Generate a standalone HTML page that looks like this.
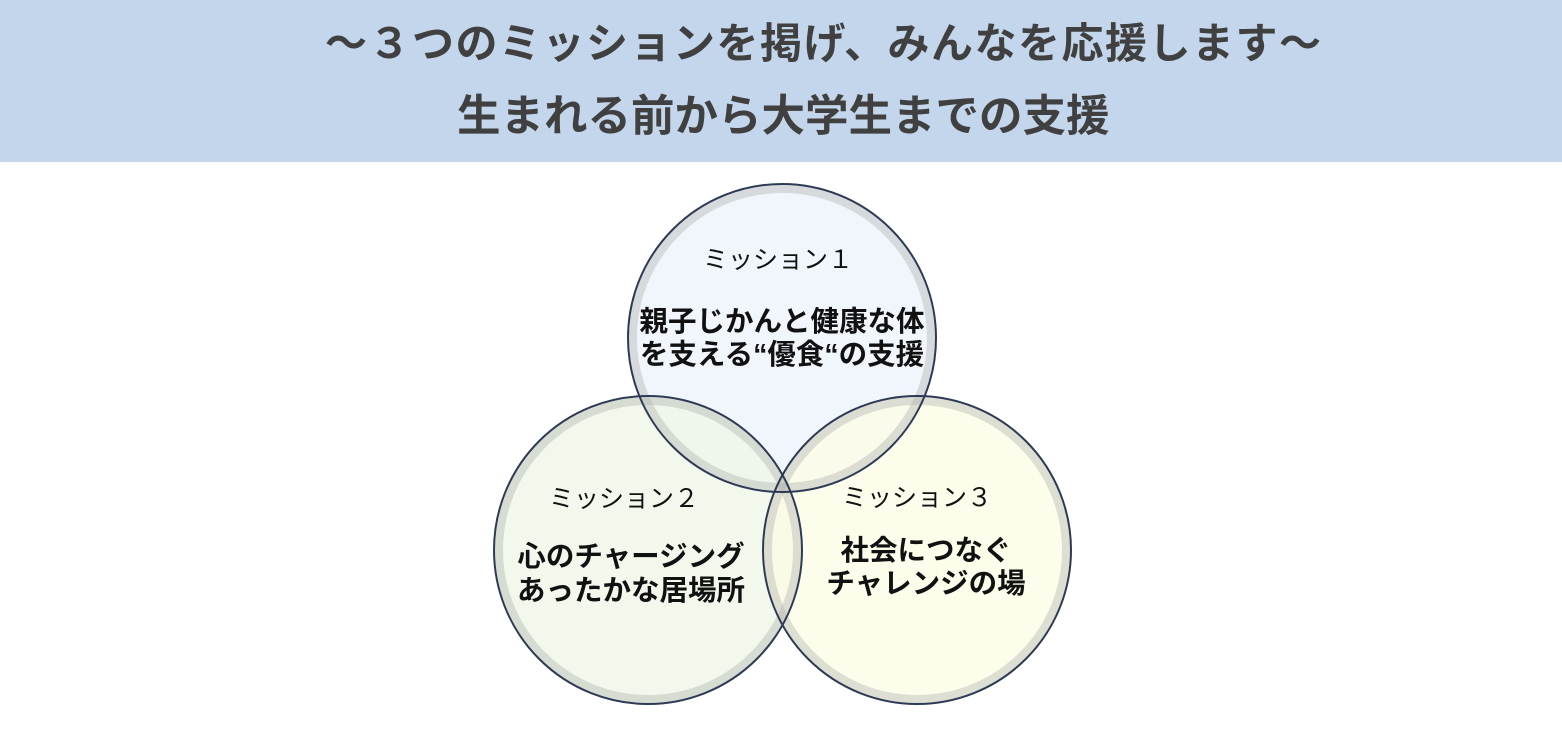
<!DOCTYPE html>
<html><head><meta charset="utf-8"><style>
html,body{margin:0;padding:0;background:#fff;}
body{width:1562px;height:730px;position:relative;overflow:hidden;font-family:"Liberation Sans","Noto Sans CJK JP",sans-serif;}
.band{position:absolute;left:0;top:0;width:1562px;height:162px;background:#c3d6eb;}
.t{position:absolute;white-space:nowrap;color:#404040;font-weight:bold;line-height:1;}
</style></head><body>
<div class="band"></div>
<div class="t" style="left:325px;top:23px;font-size:42px;letter-spacing:1.5px;">～３つのミッションを掲げ、みんなを応援します～</div>
<div class="t" style="left:457px;top:96px;font-size:43.5px;">生まれる前から大学生までの支援</div>
<svg width="1562" height="730" style="position:absolute;left:0;top:0" font-family="Liberation Sans, Noto Sans CJK JP, sans-serif">
<g>
<circle cx="782" cy="338" r="154" fill="#eef4fb" fill-opacity="0.85"/>
<circle cx="648" cy="550" r="154" fill="#eef5e6" fill-opacity="0.75"/>
<circle cx="917" cy="550" r="154" fill="#fcfce4" fill-opacity="0.75"/>
<circle cx="782" cy="338" r="149" fill="none" stroke="#b0b2b0" stroke-opacity="0.4" stroke-width="8"/>
<circle cx="648" cy="550" r="149" fill="none" stroke="#b0b2b0" stroke-opacity="0.4" stroke-width="8"/>
<circle cx="917" cy="550" r="149" fill="none" stroke="#b0b2b0" stroke-opacity="0.4" stroke-width="8"/>
<circle cx="782" cy="338" r="154" fill="none" stroke="#2e3a55" stroke-width="2"/>
<circle cx="648" cy="550" r="154" fill="none" stroke="#2e3a55" stroke-width="2"/>
<circle cx="917" cy="550" r="154" fill="none" stroke="#2e3a55" stroke-width="2"/>
</g>
<g text-anchor="middle" fill="#111">
<text x="778" y="268" font-size="25">ミッション１</text>
<text x="782" y="331" font-size="28.5" font-weight="bold">親子じかんと健康な体</text>
<text x="782" y="364" font-size="28.5" font-weight="bold">を支える“優食“の支援</text>
<text x="624" y="507" font-size="25">ミッション２</text>
<text x="631" y="566" font-size="28.5" font-weight="bold">心のチャージング</text>
<text x="631" y="600" font-size="28.5" font-weight="bold">あったかな居場所</text>
<text x="917" y="506" font-size="25">ミッション３</text>
<text x="926" y="560" font-size="28.5" font-weight="bold">社会につなぐ</text>
<text x="926" y="593" font-size="28.5" font-weight="bold">チャレンジの場</text>
</g>
</svg>
</body></html>
